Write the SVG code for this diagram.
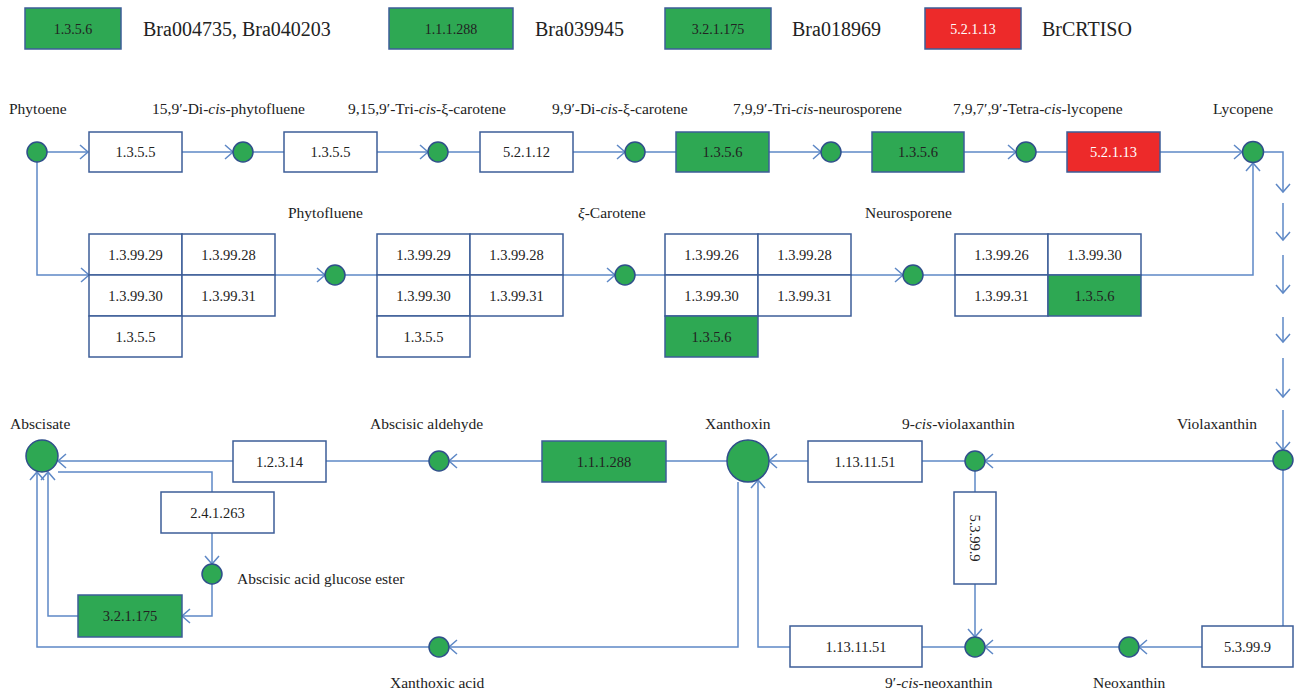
<svg xmlns="http://www.w3.org/2000/svg" width="1295" height="690" viewBox="0 0 1295 690">
<style>
text{font-family:"Liberation Serif","Times New Roman",serif;fill:#222;}
.lbl{font-size:15.5px;}
.leg{font-size:20px;}
.bt{font-size:14.5px;text-anchor:middle;dominant-baseline:central;}
.lt{font-size:14px;text-anchor:middle;dominant-baseline:central;}
.box{fill:#fff;stroke:#3d5d98;stroke-width:1.5;}
.g{fill:#2ea853;stroke:#3d5d98;stroke-width:1.5;}
.r{fill:#ed2a2a;stroke:#3d5d98;stroke-width:1.5;}
.c{fill:#2ea853;stroke:#2f4f8a;stroke-width:1.5;}
.ln{fill:none;stroke:#5e88c6;stroke-width:1.5;}
</style>
<defs>
<marker id="a" markerUnits="userSpaceOnUse" markerWidth="12" markerHeight="18" refX="10" refY="9" orient="auto">
<path d="M2,2 L10,9 L2,16" fill="none" stroke="#5e88c6" stroke-width="1.5"/>
</marker>
</defs>
<rect width="1295" height="690" fill="#fff"/>

<g id="legend">
<rect class="g" x="25" y="8" width="96" height="41"/><text class="lt" x="73" y="29">1.3.5.6</text>
<text class="leg" x="143" y="36">Bra004735, Bra040203</text>
<rect class="g" x="389" y="8" width="124" height="41"/><text class="lt" x="451" y="29">1.1.1.288</text>
<text class="leg" x="535" y="36">Bra039945</text>
<rect class="g" x="665" y="8" width="106" height="41"/><text class="lt" x="718" y="29">3.2.1.175</text>
<text class="leg" x="792" y="36">Bra018969</text>
<rect class="r" x="925" y="8" width="96" height="41"/><text class="lt" x="973" y="29" style="fill:#fff">5.2.1.13</text>
<text class="leg" x="1042" y="36">BrCRTISO</text>
</g>

<g id="connectors">
<path class="ln" d="M47,152 H88" marker-end="url(#a)"/>
<path class="ln" d="M182,152 H233" marker-end="url(#a)"/>
<path class="ln" d="M253,152 H284"/>
<path class="ln" d="M377,152 H428" marker-end="url(#a)"/>
<path class="ln" d="M448,152 H480"/>
<path class="ln" d="M573,152 H625" marker-end="url(#a)"/>
<path class="ln" d="M645,152 H676"/>
<path class="ln" d="M769,152 H821" marker-end="url(#a)"/>
<path class="ln" d="M841,152 H872"/>
<path class="ln" d="M964,152 H1016" marker-end="url(#a)"/>
<path class="ln" d="M1036,152 H1067"/>
<path class="ln" d="M1160,152 H1242" marker-end="url(#a)"/>
<path class="ln" d="M1263,152 H1283 V192" marker-end="url(#a)"/>
<path class="ln" d="M1283,203 V240" marker-end="url(#a)"/>
<path class="ln" d="M1283,255 V293" marker-end="url(#a)"/>
<path class="ln" d="M1283,317 V342" marker-end="url(#a)"/>
<path class="ln" d="M1283,358 V397" marker-end="url(#a)"/>
<path class="ln" d="M1283,410 V450" marker-end="url(#a)"/>
<path class="ln" d="M37,162 V275 H89" marker-end="url(#a)"/>
<path class="ln" d="M275,275 H325" marker-end="url(#a)"/>
<path class="ln" d="M345,275 H377"/>
<path class="ln" d="M563,275 H615" marker-end="url(#a)"/>
<path class="ln" d="M635,275 H665"/>
<path class="ln" d="M851,275 H903" marker-end="url(#a)"/>
<path class="ln" d="M923,275 H955"/>
<path class="ln" d="M1141,275 H1253 V163" marker-end="url(#a)"/>
<path class="ln" d="M1273,461 H985" marker-end="url(#a)"/>
<path class="ln" d="M965,461 H922"/>
<path class="ln" d="M808,461 H769" marker-end="url(#a)"/>
<path class="ln" d="M975,471 V492"/>
<path class="ln" d="M975,584 V637" marker-end="url(#a)"/>
<path class="ln" d="M1283,470 V626"/>
<path class="ln" d="M1202,647 H1139" marker-end="url(#a)"/>
<path class="ln" d="M1119,647 H985" marker-end="url(#a)"/>
<path class="ln" d="M965,647 H922"/>
<path class="ln" d="M790,647 H758 V480" marker-end="url(#a)"/>
<path class="ln" d="M727,461 H666"/>
<path class="ln" d="M542,461 H449" marker-end="url(#a)"/>
<path class="ln" d="M429,461 H326"/>
<path class="ln" d="M233,461 H58" marker-end="url(#a)"/>
<path class="ln" d="M212,492 V472 H58"/>
<path class="ln" d="M212,533 V564" marker-end="url(#a)"/>
<path class="ln" d="M212,584 V616 H182" marker-end="url(#a)"/>
<path class="ln" d="M78,616 H48 V472" marker-end="url(#a)"/>
<path class="ln" d="M738,482 V647 H449" marker-end="url(#a)"/>
<path class="ln" d="M429,647 H37 V472" marker-end="url(#a)"/>
</g>

<g id="phytoene"><circle class="c" cx="37" cy="152" r="10"/><text class="lbl" x="9" y="114">Phytoene</text></g>
<g id="e1"><rect class="box" x="89" y="132" width="93" height="40"/><text class="bt" x="135.5" y="152">1.3.5.5</text></g>
<g id="phytofluene159"><circle class="c" cx="243" cy="152" r="10"/><text class="lbl" x="152" y="114">15,9′-Di-<tspan font-style="italic">cis</tspan>-phytofluene</text></g>
<g id="e2"><rect class="box" x="284" y="132" width="93" height="40"/><text class="bt" x="330.5" y="152">1.3.5.5</text></g>
<g id="tricarotene"><circle class="c" cx="438" cy="152" r="10"/><text class="lbl" x="348" y="114">9,15,9′-Tri-<tspan font-style="italic">cis</tspan>-ξ-carotene</text></g>
<g id="e3"><rect class="box" x="480" y="132" width="93" height="40"/><text class="bt" x="526.5" y="152">5.2.1.12</text></g>
<g id="dicarotene"><circle class="c" cx="635" cy="152" r="10"/><text class="lbl" x="552" y="114">9,9′-Di-<tspan font-style="italic">cis</tspan>-ξ-carotene</text></g>
<g id="e4"><rect class="g" x="676" y="132" width="93" height="40"/><text class="bt" x="722.5" y="152">1.3.5.6</text></g>
<g id="trineuro"><circle class="c" cx="831" cy="152" r="10"/><text class="lbl" x="733" y="114">7,9,9′-Tri-<tspan font-style="italic">cis</tspan>-neurosporene</text></g>
<g id="e5"><rect class="g" x="872" y="132" width="92" height="40"/><text class="bt" x="918" y="152">1.3.5.6</text></g>
<g id="tetralyco"><circle class="c" cx="1026" cy="152" r="10"/><text class="lbl" x="953" y="114">7,9,7′,9′-Tetra-<tspan font-style="italic">cis</tspan>-lycopene</text></g>
<g id="e6"><rect class="r" x="1067" y="132" width="93" height="40"/><text class="bt" x="1113.5" y="152" style="fill:#fff">5.2.1.13</text></g>
<g id="lycopene"><circle class="c" cx="1253" cy="152" r="10.5"/><text class="lbl" x="1213" y="114">Lycopene</text></g>

<g id="grid1">
<rect class="box" x="89" y="234" width="93" height="41"/><text class="bt" x="135.5" y="254.5">1.3.99.29</text>
<rect class="box" x="182" y="234" width="93" height="41"/><text class="bt" x="228.5" y="254.5">1.3.99.28</text>
<rect class="box" x="89" y="275" width="93" height="41"/><text class="bt" x="135.5" y="295.5">1.3.99.30</text>
<rect class="box" x="182" y="275" width="93" height="41"/><text class="bt" x="228.5" y="295.5">1.3.99.31</text>
<rect class="box" x="89" y="316" width="93" height="41"/><text class="bt" x="135.5" y="336.5">1.3.5.5</text>
</g>
<g id="phytofluene"><circle class="c" cx="335" cy="275" r="10"/><text class="lbl" x="288" y="218">Phytofluene</text></g>
<g id="grid2">
<rect class="box" x="377" y="234" width="93" height="41"/><text class="bt" x="423.5" y="254.5">1.3.99.29</text>
<rect class="box" x="470" y="234" width="93" height="41"/><text class="bt" x="516.5" y="254.5">1.3.99.28</text>
<rect class="box" x="377" y="275" width="93" height="41"/><text class="bt" x="423.5" y="295.5">1.3.99.30</text>
<rect class="box" x="470" y="275" width="93" height="41"/><text class="bt" x="516.5" y="295.5">1.3.99.31</text>
<rect class="box" x="377" y="316" width="93" height="41"/><text class="bt" x="423.5" y="336.5">1.3.5.5</text>
</g>
<g id="zcarotene"><circle class="c" cx="625" cy="275" r="10"/><text class="lbl" x="578" y="218"><tspan font-style="italic">ξ</tspan>-Carotene</text></g>
<g id="grid3">
<rect class="box" x="665" y="234" width="93" height="41"/><text class="bt" x="711.5" y="254.5">1.3.99.26</text>
<rect class="box" x="758" y="234" width="93" height="41"/><text class="bt" x="804.5" y="254.5">1.3.99.28</text>
<rect class="box" x="665" y="275" width="93" height="41"/><text class="bt" x="711.5" y="295.5">1.3.99.30</text>
<rect class="box" x="758" y="275" width="93" height="41"/><text class="bt" x="804.5" y="295.5">1.3.99.31</text>
<rect class="g" x="665" y="316" width="93" height="41"/><text class="bt" x="711.5" y="336.5">1.3.5.6</text>
</g>
<g id="neurosporene"><circle class="c" cx="913" cy="275" r="10"/><text class="lbl" x="865" y="218">Neurosporene</text></g>
<g id="grid4">
<rect class="box" x="955" y="234" width="93" height="41"/><text class="bt" x="1001.5" y="254.5">1.3.99.26</text>
<rect class="box" x="1048" y="234" width="93" height="41"/><text class="bt" x="1094.5" y="254.5">1.3.99.30</text>
<rect class="box" x="955" y="275" width="93" height="41"/><text class="bt" x="1001.5" y="295.5">1.3.99.31</text>
<rect class="g" x="1048" y="275" width="93" height="41"/><text class="bt" x="1094.5" y="295.5">1.3.5.6</text>
</g>

<g id="violaxanthin"><circle class="c" cx="1283" cy="460" r="10"/><text class="lbl" x="1177" y="429">Violaxanthin</text></g>
<g id="cisviolaxanthin"><circle class="c" cx="975" cy="461" r="10"/><text class="lbl" x="902" y="429">9-<tspan font-style="italic">cis</tspan>-violaxanthin</text></g>
<g id="e7"><rect class="box" x="808" y="441" width="114" height="41"/><text class="bt" x="865" y="461.5">1.13.11.51</text></g>
<g id="e8"><rect class="box" x="954" y="492" width="42" height="92"/><text class="bt" transform="translate(975,538) rotate(90)" x="0" y="0">5.3.99.9</text></g>
<g id="e9"><rect class="box" x="1202" y="626" width="91" height="41"/><text class="bt" x="1247.5" y="646.5">5.3.99.9</text></g>
<g id="neoxanthin"><circle class="c" cx="1129" cy="647" r="10"/><text class="lbl" x="1093" y="688">Neoxanthin</text></g>
<g id="cisneoxanthin"><circle class="c" cx="975" cy="647" r="10"/><text class="lbl" x="885" y="688">9′-<tspan font-style="italic">cis</tspan>-neoxanthin</text></g>
<g id="e10"><rect class="box" x="790" y="626" width="132" height="41"/><text class="bt" x="856" y="646.5">1.13.11.51</text></g>
<g id="xanthoxin"><circle class="c" cx="748" cy="461" r="21"/><text class="lbl" x="705" y="429">Xanthoxin</text></g>
<g id="e11"><rect class="g" x="542" y="441" width="124" height="41"/><text class="bt" x="604" y="461.5">1.1.1.288</text></g>
<g id="aldehyde"><circle class="c" cx="439" cy="461" r="10"/><text class="lbl" x="370" y="429">Abscisic aldehyde</text></g>
<g id="e12"><rect class="box" x="233" y="441" width="93" height="41"/><text class="bt" x="279.5" y="461.5">1.2.3.14</text></g>
<g id="abscisate"><circle class="c" cx="42" cy="456" r="16"/><text class="lbl" x="10" y="429">Abscisate</text></g>
<g id="e13"><rect class="box" x="161" y="492" width="113" height="41"/><text class="bt" x="217.5" y="512.5">2.4.1.263</text></g>
<g id="glucoseester"><circle class="c" cx="212" cy="574" r="10"/><text class="lbl" x="237" y="584">Abscisic acid glucose ester</text></g>
<g id="e14"><rect class="g" x="78" y="595" width="104" height="42"/><text class="bt" x="130" y="616">3.2.1.175</text></g>
<g id="xanthoxicacid"><circle class="c" cx="439" cy="647" r="10"/><text class="lbl" x="390" y="688">Xanthoxic acid</text></g>
</svg>
